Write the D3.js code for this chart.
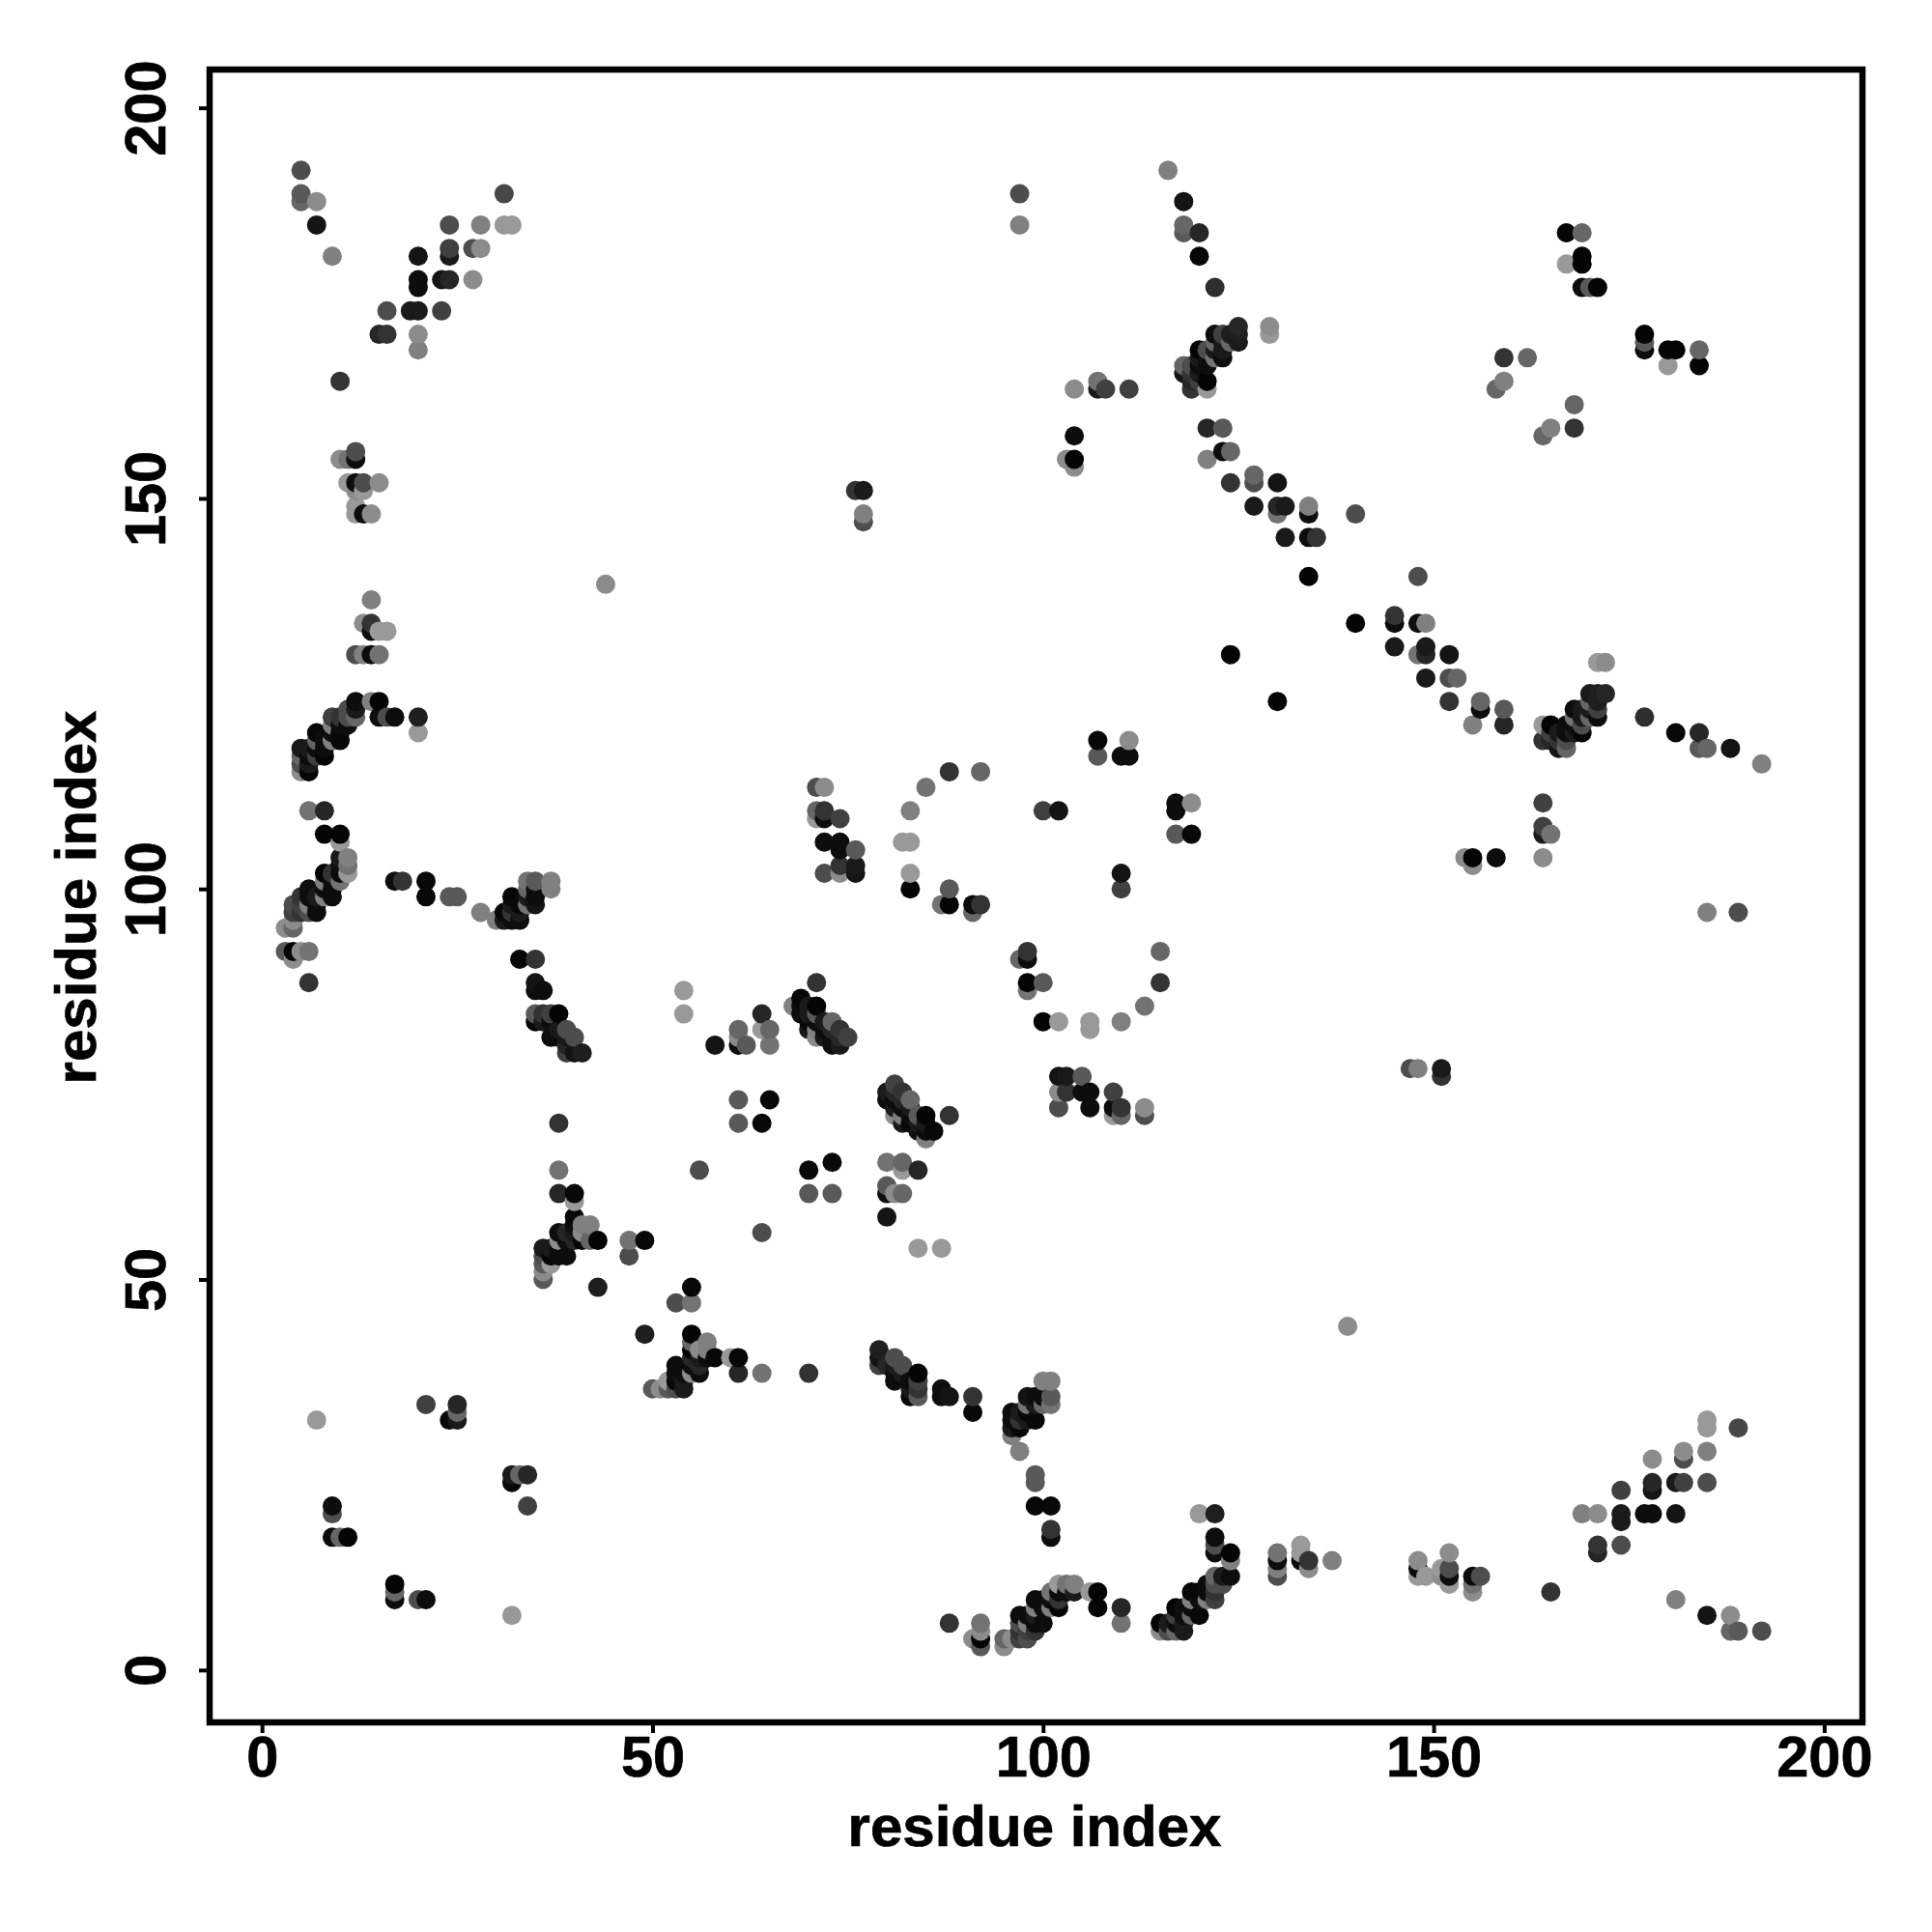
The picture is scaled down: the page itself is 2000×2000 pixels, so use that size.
<!DOCTYPE html>
<html><head><meta charset="utf-8">
<script src="https://cdn.jsdelivr.net/npm/d3@7"></script>
<style>html,body{margin:0;padding:0;background:#fff}svg{display:block}</style>
</head><body><svg id="c" width="2000" height="2000"></svg>
<script>
// residue i, residue j, grey shade (0 black .. 1 white); the map is symmetric
const farTopLeft=[[5,192,.3],[5,189,.35],[5,188,.4],[7,188,.55],[7,185,.08],[9,181,.5],[31,189,.28],[24,185,.3],[28,185,.5],[31,185,.6],[32,185,.6],[27,182,.3],[28,182,.55],[24,182,.25],[24,181,.1],[20,181,.08],[20,178,.05],[20,177,.05],[23,178,.08],[24,178,.15],[27,178,.55],[16,174,.3],[19,174,.1],[20,174,.1],[23,174,.25],[15,171,.15],[16,171,.2],[20,171,.55],[20,169,.5],[10,165,.2]];
const strand150=[[12,156,.3],[12,155,.05],[10,155,.55],[11,155,.45],[11,152,.6],[12,152,.05],[13,152,.3],[15,152,.55],[12,151,.55],[13,151,.6],[12,149,.6],[12,148,.6],[13,148,.05],[14,148,.55],[44,139,.55],[14,137,.5],[13,134,.55],[14,134,.2],[14,133,.05],[15,133,.6],[16,133,.6],[12,130,.3],[13,130,.5],[14,130,.05],[15,130,.45]];
const strand120=[[12,124,.05],[12,123,.1],[12,122,.4],[11,123,.3],[11,122,.3],[14,124,.5],[15,124,.02],[15,122,.05],[16,122,.3],[17,122,.05],[20,122,.12],[20,120,.6],[9,122,.25],[10,122,.2],[11,121,.05],[10,121,.05],[9,121,.5],[7,120,.03],[10,120,.03],[10,119,.03],[9,120,.05],[8,119,.05],[7,119,.4],[9,119,.5],[8,117,.02],[7,118,.05],[8,118,.05],[5,118,.1],[6,118,.1],[5,117,.4],[6,117,.05],[7,117,.25],[5,116,.3],[6,116,.1],[5,115,.55],[6,115,.02]];
const strand100=[[6,110,.45],[8,110,.15],[8,107,.02],[10,107,.02],[10,106,.6],[10,104,.1],[11,104,.5],[11,103,.45],[10,103,.05],[11,102,.6],[10,102,.05],[10,101,.45],[8,102,.02],[9,102,.2],[8,101,.5],[9,101,.05],[9,99,.05],[9,100,.05],[8,100,.05],[8,99,.5],[6,100,.05],[6,99,.05],[5,99,.2],[7,99,.1],[7,98,.05],[6,98,.5],[4,98,.3],[5,98,.25],[7,97,.05],[6,97,.3],[5,97,.2],[4,97,.25],[4,96,.55],[3,95,.55],[4,95,.4],[3,92,.35],[4,92,.02],[5,92,.55],[6,92,.45],[4,91,.55],[6,88,.2]];
const strandTop=[[17,101,.05],[18,101,.2],[21,101,.03],[21,99,.03],[24,99,.35],[25,99,.35],[28,97,.5],[34,101,.45],[35,101,.35],[37,101,.5],[37,100,.5],[34,100,.4],[35,100,.05],[35,99,.05],[35,98,.08],[32,99,.03],[33,98,.03],[31,97,.03],[32,96,.05],[33,96,.05],[31,96,.1],[30,96,.5],[32,97,.2],[34,98,.45],[33,97,.1],[32,98,.1],[34,99,.1],[33,91,.03],[35,91,.2],[35,88,.08],[35,87,.05],[36,87,.05],[35,84,.35],[36,84,.2],[37,84,.25],[38,84,.02],[35,83,.03],[37,83,.05],[36,83,.1],[38,82,.1],[39,82,.3],[40,81,.3],[39,81,.1],[38,81,.05],[37,81,.05],[39,79,.25],[40,79,.08],[41,79,.12],[39,80,.15]];
const strand55=[[38,70,.2],[38,64,.45],[38,61,.15],[40,61,.03],[40,60,.6],[40,58,.03],[41,57,.5],[42,57,.5],[40,57,.05],[38,56,.05],[39,56,.15],[40,56,.1],[41,56,.55],[42,55,.4],[43,55,.02],[38,55,.55],[39,55,.05],[40,55,.15],[41,55,.02],[36,54,.1],[37,54,.1],[38,54,.05],[39,53,.05],[38,53,.05],[36,53,.3],[37,53,.03],[36,52,.35],[37,52,.6],[36,51,.55],[36,50,.35],[47,55,.45],[49,55,.03],[47,53,.3],[43,49,.12]];
const middle=[[56,64,.3],[54,87,.6],[54,84,.6],[58,80,.08],[61,82,.4],[61,81,.55],[61,80,.05],[62,80,.35],[64,84,.15],[64,82,.6],[65,82,.4],[65,80,.45],[61,73,.35],[65,73,.03],[61,70,.35],[64,70,.03]];
const strand85=[[71,88,.2],[69,86,.03],[68,85,.5],[71,85,.02],[69,85,.05],[70,85,.1],[69,84,.05],[70,84,.1],[71,84,.35],[72,83,.1],[73,83,.4],[73,82,.15],[74,82,.2],[75,81,.25],[74,81,.15],[73,80,.05],[74,80,.1],[70,82,.1],[71,82,.5],[70,83,.03],[72,82,.05],[71,83,.05],[72,81,.1],[73,81,.05],[71,81,.55]];
const loops=[[71,113,.3],[72,113,.55],[71,110,.4],[72,110,.2],[71,109,.6],[72,109,.05],[74,109,.25],[72,106,.05],[74,106,.05],[74,105,.05],[76,105,.35],[72,102,.3],[74,103,.2],[74,102,.55],[76,103,.1],[76,151,.2],[77,151,.1],[77,148,.5],[77,147,.3],[88,115,.2],[85,113,.45],[83,110,.5],[82,106,.6],[83,106,.6],[83,102,.6],[83,100,.02],[88,100,.35],[87,98,.45],[88,98,.02],[91,97,.4],[91,98,.05],[92,98,.2],[92,115,.4],[98,92,.2],[98,91,.05],[98,88,.02],[98,87,.45],[100,88,.4],[100,83,.02],[102,83,.55],[106,83,.6],[106,82,.6],[110,83,.5],[113,85,.45],[115,88,.2],[102,76,.08],[105,76,.4],[102,74,.55],[103,74,.2],[105,74,.05],[106,74,.05],[102,72,.3],[106,72,.02],[109,74,.25],[109,72,.05],[109,71,.6],[110,72,.2],[110,71,.45],[113,72,.55],[113,71,.4]];
const helixTop=[[97,189,.3],[97,185,.5],[116,192,.5],[118,188,.08],[118,185,.4],[118,184,.35],[120,184,.15],[120,181,.03],[122,177,.18],[129,172,.55],[129,171,.6],[104,164,.55],[107,165,.45],[107,164,.1],[108,164,.25],[111,164,.25],[104,158,.05],[104,155,.02],[103,155,.55],[104,154,.55],[121,159,.15],[123,159,.35],[123,156,.05],[124,156,.4],[121,155,.5],[124,152,.2],[127,153,.4],[127,152,.3],[130,152,.08],[127,149,.1],[130,149,.15],[131,149,.1],[130,148,.45],[134,149,.5],[134,148,.05],[131,145,.1],[134,145,.05],[135,145,.2],[140,148,.3],[134,140,.02],[124,130,.02]];
const cluster170=[[125,172,.15],[125,171,.12],[125,170,.1],[124,171,.12],[124,170,.4],[123,171,.25],[122,171,.05],[123,170,.1],[122,170,.4],[123,168,.05],[123,169,.1],[122,169,.1],[122,168,.45],[120,169,.02],[121,169,.3],[120,168,.1],[121,168,.05],[121,167,.05],[120,167,.05],[119,167,.3],[118,167,.4],[118,166,.08],[119,166,.2],[120,166,.1],[121,165,.02],[119,165,.15],[120,165,.25],[119,164,.2],[121,164,.6]];
const farRight=[[107,119,.03],[111,119,.55],[107,117,.35],[110,117,.05],[111,117,.05],[100,110,.25],[102,110,.08],[104,158,.02],[158,164,.4],[148,140,.3],[145,134,.03],[145,131,.1],[154,104,.5],[155,104,.02],[155,103,.5],[158,104,.02],[185,97,.55],[189,97,.3],[167,184,.02],[169,184,.4],[169,181,.02],[169,180,.02],[167,180,.6],[169,177,.05],[170,177,.35],[171,177,.02],[159,168,.2],[162,168,.4],[159,165,.5],[147,77,.35],[148,77,.5],[151,77,.15],[151,76,.3],[139,44,.55]];
const nearAxis=[[7,32,.6],[21,34,.25],[25,34,.15],[25,33,.4],[24,32,.03],[25,32,.1],[9,21,.05],[9,20,.3],[9,17,.05],[10,17,.4],[11,17,.02],[17,11,.05],[17,10,.4],[17,9,.05],[20,9,.3],[21,9,.02]];

const xTicks=[0,50,100,150,200];
const yTicks=[0,50,100,150,200];
const xLabel="residue index", yLabel="residue index";
const lim=[-6.7,204.9];

const font='"Liberation Sans",Arial,Helvetica,sans-serif';
const svg=d3.select("#c");
const x=d3.scaleLinear().domain(lim).range([217,1928]);
const y=d3.scaleLinear().domain(lim).range([1783,72]);
const grey=d3.scaleLinear().domain([0,1]).range(["#000","#fff"]);

// merge, keeping one shade per unordered pair, then mirror across the diagonal
const seen=new Map();
[farTopLeft,strand150,strand120,strand100,strandTop,strand55,middle,strand85,loops,helixTop,cluster170,farRight,nearAxis].flat().forEach(([a,b,s])=>{
  const k=Math.min(a,b)+"_"+Math.max(a,b);
  if(!seen.has(k)) seen.set(k,[Math.min(a,b),Math.max(a,b),s]);
});
const pts=[];
seen.forEach(([a,b,s])=>{pts.push({i:a,j:b,s});pts.push({i:b,j:a,s});});
pts.sort((p,q)=>d3.ascending(p.i,q.i)||d3.ascending(p.j,q.j));

svg.append("g").selectAll("circle").data(pts).join("circle")
  .attr("cx",d=>x(d.i)).attr("cy",d=>y(d.j)).attr("r",10).attr("fill",d=>grey(d.s));

const ax=svg.append("g").attr("transform","translate(0,1783)").call(d3.axisBottom(x).tickValues(xTicks).tickSize(11).tickPadding(12).tickFormat(d3.format("d")));
const ay=svg.append("g").attr("transform","translate(217,0)").call(d3.axisLeft(y).tickValues(yTicks).tickSize(11).tickFormat(d3.format("d")));
[ax,ay].forEach(g=>{g.select(".domain").remove();g.selectAll("line").attr("stroke","#000").attr("stroke-width",4);
  g.selectAll("text").attr("font-family",font).attr("font-weight","bold").attr("font-size",59.5).attr("fill","#000").attr("stroke","#000").attr("stroke-width",.7);});
ax.selectAll("text").attr("dy",null).attr("y",56);
ay.selectAll("text").attr("x",null).attr("y",null).attr("dy",null).attr("text-anchor","middle")
  .attr("transform",`translate(${171-217},0) rotate(-90)`);

svg.append("rect").attr("x",217).attr("y",72).attr("width",1711).attr("height",1711)
  .attr("fill","none").attr("stroke","#000").attr("stroke-width",6.5);

svg.append("text").attr("x",1071).attr("y",1911).attr("text-anchor","middle").attr("stroke","#000").attr("stroke-width",.7)
  .attr("font-family",font).attr("font-weight","bold").attr("font-size",60).text(xLabel);
svg.append("text").attr("transform","translate(99,929) rotate(-90)").attr("text-anchor","middle").attr("stroke","#000").attr("stroke-width",.7)
  .attr("font-family",font).attr("font-weight","bold").attr("font-size",60).text(yLabel);
</script></body></html>
